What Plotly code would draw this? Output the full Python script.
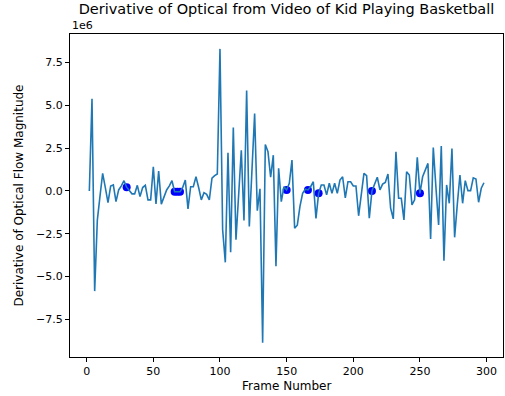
import plotly.graph_objects as go

# Frame numbers (every 2 frames) and derivative values (in units of 1e6)
frames = list(range(2, 300, 2))
deriv_millions = [
    0.0, 5.39, -5.85, -1.7, -0.3, 1.03, 0.2, -0.68, 0.29, 0.35,        # 2-20
    -0.62, 0.06, 0.3, 0.6, 0.22, 0.0, -0.17, -0.17, 0.33, -0.33,       # 22-40
    0.2, 0.33, -0.52, -0.52, 1.41, -0.76, 1.16, -0.77, -0.3, 0.06,     # 42-60
    0.3, 0.6, -0.05, -0.05, -0.05, 0.2, 0.64, -1.05, 0.25, 0.25,       # 62-80
    0.83, 0.2, -0.52, -0.1, -0.2, -0.52, 0.75, 0.9, 0.99, 8.3,         # 82-100
    -2.27, -4.17, 2.23, -3.58, 3.7, -2.85, -0.5, 2.38, -1.73, 5.87,    # 102-120
    -2.07, 1.0, 4.52, -1.15, 0.13, -8.86, 2.71, 2.29, 0.8, 2.09,       # 122-140
    -4.4, 1.32, -0.62, 0.25, 0.06, 0.45, 1.8, -2.17, -2.0, -0.9,       # 142-160
    -0.14, 0.1, 0.06, 0.25, 0.54, -1.6, -0.14, 0.35, 0.35, -0.23,      # 162-180
    0.45, -0.14, 0.45, -0.14, 0.64, 0.83, -0.4, 0.54, 0.54, 0.29,      # 182-200
    0.29, -1.45, -0.2, 1.03, 0.89, -1.59, 0.0, 0.4, 0.8, 0.06,         # 202-220
    0.4, 0.5, 0.99, -1.0, -1.63, 2.29, -0.43, -0.43, -1.69, 1.12,      # 222-240
    0.93, -0.81, -0.52, 1.96, -0.14, 0.83, 1.2, 1.61, -2.81, 2.54,     # 242-260
    0.2, -1.98, 2.62, -4.07, 0.35, -0.72, 2.48, -2.71, -0.8, 0.93,     # 262-280
    -0.72, 0.6, 0.02, 0.02, 0.77, 0.7, -0.66, 0.16, 0.48,              # 282-298
]

# Highlighted frames (blue dots)
marker_frames = [30, 66, 68, 70, 150, 166, 174, 214, 250]
marker_values = [deriv_millions[frames.index(f)] for f in marker_frames]

y_tick_vals = [-7.5, -5.0, -2.5, 0.0, 2.5, 5.0, 7.5]
y_tick_text = ["\u22127.5", "\u22125.0", "\u22122.5", "0.0", "2.5", "5.0", "7.5"]
x_tick_vals = [0, 50, 100, 150, 200, 250, 300]

font_family = "DejaVu Sans"

fig = go.Figure()
fig.add_trace(go.Scatter(
    x=marker_frames, y=marker_values, mode="markers",
    marker=dict(color="#0000ff", size=8, line=dict(width=0)),
    showlegend=False,
))
fig.add_trace(go.Scatter(
    x=frames, y=deriv_millions, mode="lines",
    line=dict(color="#1f77b4", width=1.6),
    showlegend=False,
))

axis_common = dict(
    showgrid=False, zeroline=False, showline=True, linecolor="black",
    linewidth=1, mirror=True, ticks="outside", ticklen=4, tickwidth=1,
    tickcolor="black", tickfont=dict(family=font_family, size=11, color="black"),
)

fig.update_layout(
    width=505, height=396,
    margin=dict(l=70, r=2, t=34, b=39),
    paper_bgcolor="white", plot_bgcolor="white",
    font=dict(family=font_family, color="black"),
    title=dict(
        text="Derivative of Optical from Video of Kid Playing Basketball",
        x=0.5, xref="paper", xanchor="center",
        y=1 - 9 / 396, yref="container", yanchor="middle",
        font=dict(family=font_family, size=14.5, color="black"),
    ),
    xaxis=dict(range=[-12.5, 312.3], tickvals=x_tick_vals, **axis_common),
    yaxis=dict(range=[-9.7, 9.17], tickvals=y_tick_vals, ticktext=y_tick_text,
               **axis_common),
    annotations=[
        dict(text="1e6", xref="paper", yref="paper", x=0, y=1.025,
             xanchor="left", yanchor="middle", showarrow=False,
             font=dict(family=font_family, size=11, color="black")),
        dict(text="Frame Number", xref="paper", yref="paper", x=0.5, y=-0.09,
             xanchor="center", yanchor="middle", showarrow=False,
             font=dict(family=font_family, size=12, color="black")),
        dict(text="Derivative of Optical Flow Magnitude", xref="paper",
             yref="paper", x=-0.12, y=0.5, xanchor="center", yanchor="middle",
             textangle=-90, showarrow=False,
             font=dict(family=font_family, size=12, color="black")),
    ],
)

fig.write_html("out.html", config={"displayModeBar": False},
               post_script="document.body.style.margin='0';")
